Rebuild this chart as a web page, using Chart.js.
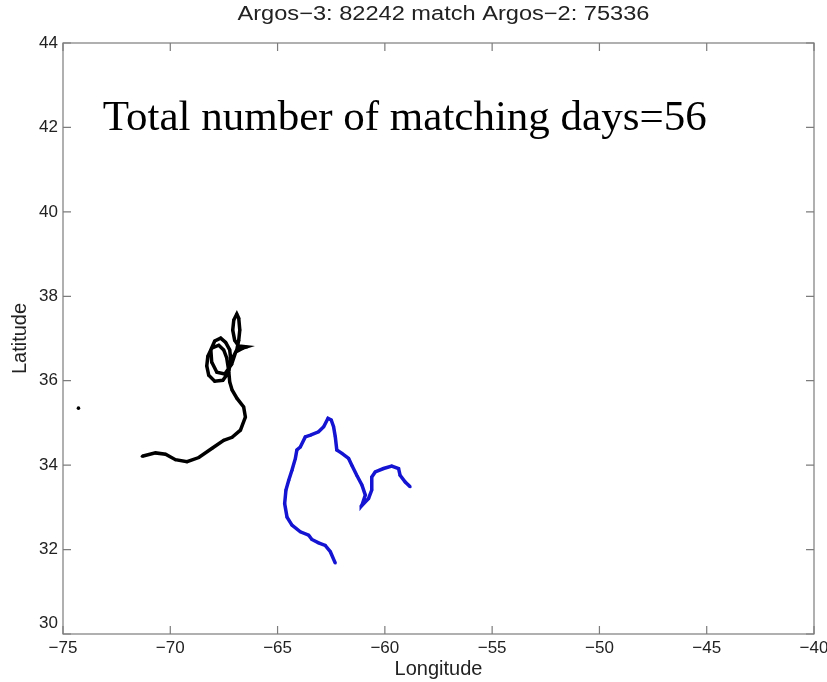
<!DOCTYPE html>
<html>
<head>
<meta charset="utf-8">
<script src="https://cdn.jsdelivr.net/npm/chart.js@4.4.0/dist/chart.umd.min.js"></script>
<style>
  html, body { margin: 0; padding: 0; background: #fff; }
  #wrap { width: 827px; height: 682px; }
</style>
</head>
<body>
<div id="wrap"><canvas id="myChart" width="827" height="682"></canvas></div>
<script>
// Argos-3 track (black)
const argos3Lon = [-71.31, -70.69, -70.22, -69.76, -69.22, -68.67, -68.05, -67.51, -67.12, -66.73,
    -66.50, -66.58, -66.89, -67.12, -67.23, -67.28, -67.37, -67.51, -67.74, -68.07,
    -68.25, -68.30, -68.21, -67.93, -67.55, -67.28, -67.18, -67.23, -67.42, -67.65,
    -67.93, -68.11, -68.07, -67.83, -67.46, -67.14, -66.95, -66.62, -66.44, -66.81,
    -67.00, -67.09, -67.04, -66.90, -66.81, -66.76, -66.81, -66.90, -67.14];
const argos3Lat = [34.21, 34.29, 34.26, 34.13, 34.08, 34.18, 34.40, 34.59, 34.66, 34.83,
    35.14, 35.38, 35.58, 35.78, 35.97, 36.25, 36.54, 36.73, 36.84, 36.77,
    36.58, 36.35, 36.13, 35.99, 36.01, 36.20, 36.49, 36.73, 36.91, 37.01,
    36.94, 36.73, 36.44, 36.20, 36.16, 36.39, 36.68, 36.77, 36.80, 36.82,
    36.96, 37.20, 37.44, 37.58, 37.48, 37.20, 36.96, 36.73, 36.49];

// lone black fix off to the west
const strayLon = [-74.28];
const strayLat = [35.35];

// Argos-2 track (blue)
const argos2Lon = [-62.31, -62.54, -62.78, -63.09, -63.40, -63.55, -63.94, -64.33, -64.56, -64.67,
    -64.61, -64.48, -64.33, -64.17, -64.10, -63.94, -63.71, -63.47, -63.09, -62.85,
    -62.65, -62.50, -62.39, -62.31, -62.24, -62.00, -61.69, -61.54, -61.31, -61.07,
    -60.91, -61.07, -61.10, -60.76, -60.61, -60.61, -60.45, -60.06, -59.68, -59.36,
    -59.29, -59.05, -58.82];
const argos2Lat = [31.68, 31.95, 32.10, 32.16, 32.24, 32.34, 32.42, 32.58, 32.77, 33.09,
    33.41, 33.64, 33.88, 34.16, 34.36, 34.43, 34.67, 34.71, 34.79, 34.91,
    35.11, 35.07, 34.91, 34.67, 34.36, 34.28, 34.16, 34.00, 33.76, 33.53,
    33.29, 33.05, 33.03, 33.21, 33.41, 33.72, 33.84, 33.92, 33.98, 33.92,
    33.76, 33.60, 33.49];

const lonTicks = [-75, -70, -65, -60, -55, -50, -45, -40];
const latTicks = [30, 32, 34, 36, 38, 40, 42, 44];
const titleText = 'Argos\u22123: 82242 match Argos\u22122: 75336';
const noteText = 'Total number of matching days=56';

function toPoints(xs, ys) {
    return xs.map((x, i) => ({ x: x, y: ys[i] }));
}

const AXIS_GREY = '#7c7c7c';
const SANS = '"Liberation Sans", Arial, sans-serif';

// box round the plot, inward ticks, title, the raised "30" and the big note
const matlabFrame = {
    id: 'matlabFrame',
    afterDraw(chart) {
        const ctx = chart.ctx;
        const a = chart.chartArea;
        const xs = chart.scales.x;
        const ys = chart.scales.y;
        ctx.save();
        ctx.strokeStyle = AXIS_GREY;
        ctx.lineWidth = 1.2;
        ctx.strokeRect(a.left, a.top, a.right - a.left, a.bottom - a.top);
        ctx.beginPath();
        lonTicks.forEach(v => {
            const px = xs.getPixelForValue(v);
            ctx.moveTo(px, a.bottom); ctx.lineTo(px, a.bottom - 8);
            ctx.moveTo(px, a.top); ctx.lineTo(px, a.top + 8);
        });
        latTicks.forEach(v => {
            const py = ys.getPixelForValue(v);
            ctx.moveTo(a.left, py); ctx.lineTo(a.left + 8, py);
            ctx.moveTo(a.right, py); ctx.lineTo(a.right - 8, py);
        });
        ctx.stroke();

        ctx.fillStyle = '#222';
        ctx.font = '17px ' + SANS;
        ctx.textAlign = 'right';
        ctx.textBaseline = 'middle';
        ctx.fillText('30', a.left - 5, ys.getPixelForValue(30) - 11);

        // title, a little wide like the original export
        ctx.save();
        ctx.translate((a.left + a.right) / 2 + 5, 20);
        ctx.scale(1.18, 1);
        ctx.font = '20px ' + SANS;
        ctx.textAlign = 'center';
        ctx.textBaseline = 'alphabetic';
        ctx.fillText(titleText, 0, 0);
        ctx.restore();

        ctx.fillStyle = '#000';
        ctx.font = '43px "Liberation Serif", "Times New Roman", serif';
        ctx.textAlign = 'left';
        ctx.textBaseline = 'alphabetic';
        ctx.fillText(noteText, xs.getPixelForValue(-73.15), ys.getPixelForValue(41.93));
        ctx.restore();
    }
};

const ctx = document.getElementById('myChart').getContext('2d');
const chart = new Chart(ctx, {
    type: 'scatter',
    data: {
        datasets: [{
            label: 'Argos-3: 82242',
            data: toPoints(argos3Lon, argos3Lat),
            showLine: true,
            borderColor: '#000000',
            backgroundColor: '#000000',
            borderWidth: 3.5,
            pointRadius: 1.5,
            pointBorderWidth: 0,
            tension: 0
        }, {
            label: 'stray fix',
            data: toPoints(strayLon, strayLat),
            showLine: false,
            backgroundColor: '#000000',
            pointRadius: 1.8,
            pointBorderWidth: 0
        }, {
            label: 'Argos-2: 75336',
            data: toPoints(argos2Lon, argos2Lat),
            showLine: true,
            borderColor: '#1414d2',
            backgroundColor: '#1414d2',
            borderWidth: 3.5,
            pointRadius: 1.5,
            pointBorderWidth: 0,
            tension: 0
        }]
    },
    options: {
        responsive: false,
        animation: false,
        layout: { padding: { left: 0, right: 13, top: 43, bottom: 0 } },
        plugins: {
            legend: { display: false },
            tooltip: { enabled: false },
            title: { display: false }
        },
        scales: {
            x: {
                type: 'linear',
                min: -75,
                max: -40,
                afterBuildTicks: s => { s.ticks = lonTicks.map(v => ({ value: v })); },
                afterFit: s => { s.height = 48; s.paddingLeft = 0; s.paddingRight = 0; },
                ticks: {
                    color: '#222',
                    padding: 4,
                    maxRotation: 0,
                    autoSkip: false,
                    font: { family: SANS, size: 17 },
                    callback: v => String(v).replace('-', '\u2212')
                },
                grid: { display: false, drawTicks: false },
                border: { display: false },
                title: {
                    display: true,
                    text: 'Longitude',
                    color: '#222',
                    font: { family: SANS, size: 20 },
                    padding: { top: 0, bottom: 1 }
                }
            },
            y: {
                type: 'linear',
                min: 30,
                max: 44,
                afterBuildTicks: s => { s.ticks = latTicks.map(v => ({ value: v })); },
                afterFit: s => { s.width = 63; },
                ticks: {
                    color: '#222',
                    padding: 5,
                    autoSkip: false,
                    font: { family: SANS, size: 17 },
                    callback: v => (v === 30 ? '' : String(v))
                },
                grid: { display: false, drawTicks: false },
                border: { display: false },
                title: {
                    display: true,
                    text: 'Latitude',
                    color: '#222',
                    font: { family: SANS, size: 20 },
                    padding: { top: 8, bottom: 0 }
                }
            }
        }
    },
    plugins: [matlabFrame]
});
</script>
</body>
</html>
